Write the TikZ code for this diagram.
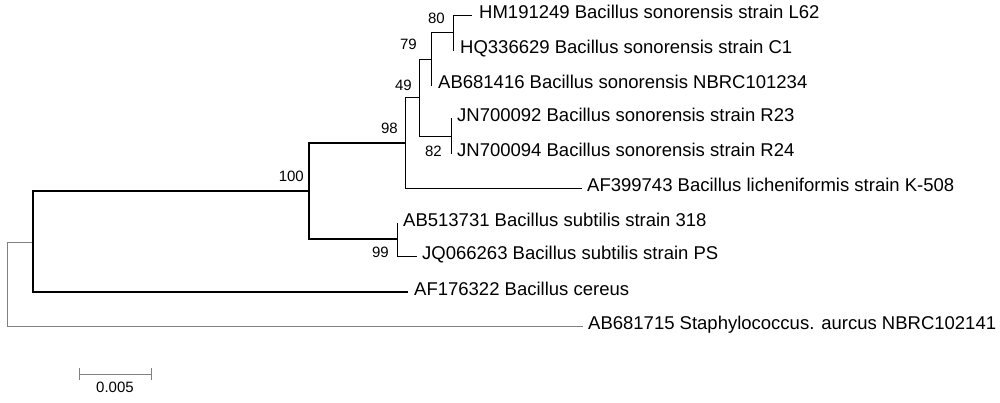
\documentclass[tikz,border=0pt]{standalone}
\usepackage{fontspec}
\setmainfont{Liberation Sans}
\begin{document}
\begin{tikzpicture}[x=1pt,y=-1pt,
  thickedge/.style={line width=1.8pt,black},
  thinedge/.style={line width=1pt,black},
  rootedge/.style={line width=1pt,gray},
  taxon/.style={anchor=west,inner sep=0pt,font=\fontsize{18.5}{20}\selectfont,text height=0.72em,text depth=0pt},
  boot/.style={anchor=east,inner sep=0pt,font=\fontsize{15}{16}\selectfont,text height=0.72em,text depth=0pt},
  scalelbl/.style={inner sep=0pt,font=\fontsize{15}{16}\selectfont,text height=0.72em,text depth=0pt}]
\useasboundingbox[fill=white] (0,0) rectangle (1000,402);
% internal nodes
\coordinate (root) at (7,284);
\coordinate (nA) at (33,242);
\coordinate (n100) at (309,191);
\coordinate (n98) at (405,143);
\coordinate (n49) at (419,97);
\coordinate (n79) at (431,59);
\coordinate (n80) at (453,32);
\coordinate (n82) at (451,136);
\coordinate (n99) at (397,239);
% tips
\coordinate (tHM) at (472,15);
\coordinate (tHQ) at (454,50);
\coordinate (tAB416) at (432,85);
\coordinate (tJN92) at (452,118);
\coordinate (tJN94) at (452,153);
\coordinate (tLich) at (582,188);
\coordinate (tAB318) at (398,223);
\coordinate (tJQ) at (417,256);
\coordinate (tCer) at (408,292);
\coordinate (tSta) at (583,326);
% labels
\node[taxon] (lHM) at ([xshift=7]tHM) {HM191249 Bacillus sonorensis strain L62};
\node[taxon] (lHQ) at ([xshift=6]tHQ) {HQ336629 Bacillus sonorensis strain C1};
\node[taxon] (lAB416) at ([xshift=6]tAB416) {AB681416 Bacillus sonorensis NBRC101234};
\node[taxon] (lJN92) at ([xshift=5]tJN92) {JN700092 Bacillus sonorensis strain R23};
\node[taxon] (lJN94) at ([xshift=5]tJN94) {JN700094 Bacillus sonorensis strain R24};
\node[taxon] (lLich) at ([xshift=5]tLich) {AF399743 Bacillus licheniformis strain K-508};
\node[taxon] (lAB318) at ([xshift=5]tAB318) {AB513731 Bacillus subtilis strain 318};
\node[taxon] (lJQ) at ([xshift=5]tJQ) {JQ066263 Bacillus subtilis strain PS};
\node[taxon] (lCer) at ([xshift=6]tCer) {AF176322 Bacillus cereus};
\node[taxon] (lSta) at ([xshift=5]tSta) {AB681715 Staphylococcus. aurcus NBRC102141};
% edges
\draw[rootedge] (root) |- (nA);
\draw[rootedge] (root) |- (tSta);
\draw[thickedge] (nA) |- (n100);
\draw[thickedge] (nA) |- (tCer);
\draw[thickedge] (n100) |- (n98);
\draw[thickedge] (n100) |- (n99);
\draw[thinedge] (n99) |- (tAB318);
\draw[thinedge] (n99) |- (tJQ);
\draw[thinedge] (n98) |- (n49);
\draw[thinedge] (n98) |- (tLich);
\draw[thinedge] (n49) |- (n79);
\draw[thinedge] (n49) |- (n82);
\draw[thinedge] (n79) |- (n80);
\draw[thinedge] (n79) |- (tAB416);
\draw[thinedge] (n80) |- (tHM);
\draw[thinedge] (n80) |- (tHQ);
\draw[thinedge] (n82) |- (tJN92);
\draw[thinedge] (n82) |- (tJN94);
% bootstrap values
\node[boot] (b100) at ([shift={(-5,-13)}]n100) {100};
\node[boot] (b98) at ([shift={(-7,-13)}]n98) {98};
\node[boot] (b49) at ([shift={(-7,-10)}]n49) {49};
\node[boot] (b79) at ([shift={(-14,-13)}]n79) {79};
\node[boot] (b80) at ([shift={(-8,-12)}]n80) {80};
\node[boot] (b82) at ([shift={(-9,17)}]n82) {82};
\node[boot] (b99) at ([shift={(-8,15)}]n99) {99};
% scale bar
\coordinate (sbL) at (79,374);
\coordinate (sbR) at (151,374);
\draw[rootedge] (sbL) -- (sbR);
\draw[rootedge] ([yshift=-6]sbL) -- ([yshift=6]sbL);
\draw[rootedge] ([yshift=-6]sbR) -- ([yshift=6]sbR);
\node[scalelbl] (sblbl) at (115,389) {0.005};
\end{tikzpicture}
\end{document}
